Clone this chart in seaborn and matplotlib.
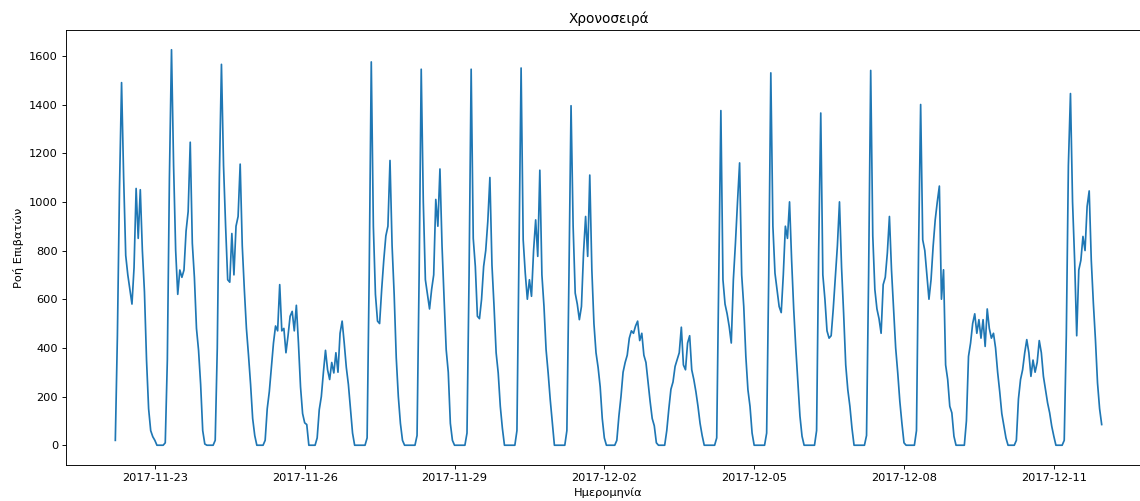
import matplotlib
matplotlib.use("Agg")
import matplotlib.pyplot as plt
import matplotlib.dates as mdates
import numpy as np
import pandas as pd
import seaborn as sns

# Hourly passenger flow, first reading at 05:00 on 2017-11-22
start = "2017-11-22 05:00"

nov22 = [20, 450, 1050, 1490, 1100, 780, 700, 640, 580, 730, 1055, 850, 1050, 800, 630, 350, 150, 60, 35]
nov23 = [20, 0, 0, 0, 0, 10, 350, 1100, 1625, 1150, 800, 620, 720, 690, 720, 880, 960, 1245, 830, 690, 480, 390, 250, 60]
nov24 = [5, 0, 0, 0, 0, 20, 400, 1100, 1565, 1150, 900, 680, 670, 870, 700, 900, 940, 1155, 820, 640, 480, 370, 250, 110]
nov25 = [40, 0, 0, 0, 0, 20, 150, 220, 320, 420, 490, 470, 660, 470, 480, 380, 450, 530, 550, 470, 575, 420, 240, 130]
nov26 = [92, 85, 0, 0, 0, 0, 30, 146, 200, 300, 390, 310, 270, 340, 297, 380, 300, 460, 510, 420, 320, 250, 150, 50]
nov27 = [0, 0, 0, 0, 0, 0, 30, 700, 1575, 900, 620, 510, 500, 640, 760, 860, 900, 1170, 820, 620, 360, 200, 90, 20]
nov28 = [0, 0, 0, 0, 0, 0, 40, 700, 1545, 1000, 680, 620, 560, 640, 700, 1010, 900, 1135, 820, 600, 393, 300, 90, 20]
nov29 = [0, 0, 0, 0, 0, 0, 50, 700, 1545, 850, 735, 530, 520, 600, 735, 800, 920, 1100, 740, 570, 380, 297, 160, 70]
nov30 = [0, 0, 0, 0, 0, 0, 60, 800, 1550, 844, 707, 600, 680, 612, 800, 926, 776, 1130, 700, 570, 393, 297, 187, 92]
dec01 = [0, 0, 0, 0, 0, 0, 60, 700, 1395, 900, 625, 580, 516, 570, 790, 940, 776, 1110, 720, 500, 380, 320, 240, 110]
dec02 = [30, 0, 0, 0, 0, 0, 20, 120, 200, 300, 340, 370, 440, 470, 460, 490, 510, 430, 460, 370, 340, 260, 180, 110]
dec03 = [80, 10, 0, 0, 0, 0, 60, 150, 230, 260, 324, 352, 380, 485, 330, 310, 420, 450, 310, 270, 220, 160, 90, 40]
dec04 = [0, 0, 0, 0, 0, 0, 30, 700, 1375, 680, 580, 540, 488, 420, 680, 830, 1000, 1160, 700, 570, 365, 228, 160, 50]
dec05 = [0, 0, 0, 0, 0, 0, 50, 700, 1530, 900, 707, 640, 570, 545, 700, 900, 850, 1000, 760, 560, 400, 260, 120, 37]
dec06 = [0, 0, 0, 0, 0, 0, 60, 800, 1365, 700, 600, 470, 440, 450, 560, 690, 820, 1000, 730, 540, 330, 228, 160, 70]
dec07 = [0, 0, 0, 0, 0, 0, 40, 700, 1540, 860, 640, 560, 520, 460, 660, 690, 790, 940, 720, 560, 400, 297, 180, 90]
dec08 = [10, 0, 0, 0, 0, 0, 60, 800, 1400, 844, 800, 700, 600, 680, 817, 926, 1000, 1065, 600, 721, 330, 270, 160, 133]
dec09 = [37, 0, 0, 0, 0, 0, 100, 365, 420, 500, 540, 460, 516, 440, 516, 406, 560, 480, 440, 460, 400, 300, 220, 130]
dec10 = [80, 30, 0, 0, 0, 0, 20, 190, 270, 310, 379, 434, 380, 283, 350, 300, 340, 430, 380, 283, 228, 174, 133, 78]
dec11 = [37, 0, 0, 0, 0, 20, 450, 1150, 1445, 1000, 760, 450, 720, 760, 858, 800, 981, 1045, 760, 584, 434, 256, 150, 85]

tick_dates = ["2017-11-23", "2017-11-26", "2017-11-29", "2017-12-02",
              "2017-12-05", "2017-12-08", "2017-12-11"]

title = "Χρονοσειρά"
xlabel = "Ημερομηνία"
ylabel = "Ροή Επιβατών"

days = [nov22, nov23, nov24, nov25, nov26, nov27, nov28, nov29, nov30, dec01,
        dec02, dec03, dec04, dec05, dec06, dec07, dec08, dec09, dec10, dec11]
flow = np.concatenate([np.asarray(d, dtype=float) for d in days])
times = pd.date_range(start, periods=len(flow), freq="h")
df = pd.DataFrame({"time": times, "flow": flow})

DPI = 82
fig = plt.figure(figsize=(1140 / DPI, 501 / DPI), dpi=DPI)
ax = fig.add_axes([66 / 1140, 36 / 501, 1085 / 1140, 435 / 501])

sns.lineplot(data=df, x="time", y="flow", ax=ax, color="#1f77b4", linewidth=1.5)

ax.set_xticks(pd.to_datetime(tick_dates))
ax.xaxis.set_major_formatter(mdates.DateFormatter("%Y-%m-%d"))
ax.set_title(title)
ax.set_xlabel(xlabel)
ax.set_ylabel(ylabel)

fig.savefig("out.png", dpi=DPI)
